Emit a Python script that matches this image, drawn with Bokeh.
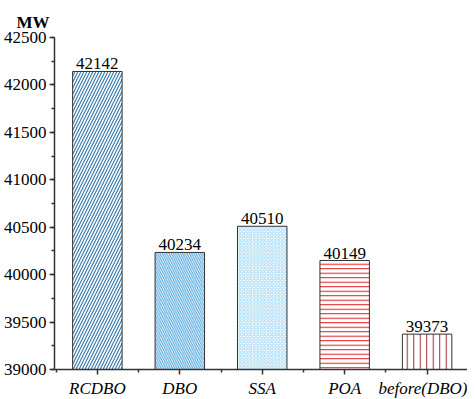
from bokeh.plotting import figure
from bokeh.models import ColumnDataSource, FixedTicker, Range1d, Title, LabelSet
from bokeh.embed import file_html
from bokeh.resources import INLINE

categories = ["RCDBO", "DBO", "SSA", "POA", "before(DBO)"]
values = [42142, 40234, 40510, 40149, 39373]
hatch_patterns = ["/", "\\", "x", "-", "|"]
hatch_colors = ["#3b7cae", "#3a9ad8", "#a6daf4", "#e01818", "#a02a2a"]
hatch_scales = [6, 4.5, 3.5, 4.5, 6.5]
hatch_weights = [1.2, 1.0, 1.0, 1.0, 1.0]

xs = list(range(1, len(categories) + 1))
src = ColumnDataSource(dict(x=xs, top=values, hp=hatch_patterns, hc=hatch_colors,
                            hs=hatch_scales, hw=hatch_weights, lab=[str(v) for v in values]))

FONT = "Liberation Serif"
p = figure(frame_width=413, frame_height=332, output_backend="svg", toolbar_location=None,
           x_range=Range1d(0.48, 5.49), y_range=Range1d(39000, 42500),
           min_border_left=54, min_border_right=0, min_border_top=37, min_border_bottom=0)
p.outline_line_color = None
p.grid.grid_line_color = None

p.vbar(x="x", top="top", bottom=39000, width=0.6, source=src,
       fill_color="white", line_color="#333333", line_width=1,
       hatch_pattern="hp", hatch_color="hc", hatch_scale="hs", hatch_weight="hw")

labels = LabelSet(x="x", y="top", text="lab", source=src, text_align="center",
                  text_baseline="bottom", y_offset=2, text_font=FONT, text_font_size="17px",
                  text_color="black")
p.add_layout(labels)

p.yaxis.ticker = FixedTicker(ticks=list(range(39000, 42501, 500)),
                             minor_ticks=list(range(39000, 42501, 250)))
p.xaxis.ticker = FixedTicker(ticks=xs, minor_ticks=[0.5, 1.5, 2.5, 3.5, 4.5, 5.5])
p.xaxis.major_label_overrides = {i: c for i, c in zip(xs, categories)}

for ax in (p.xaxis, p.yaxis):
    ax.axis_line_width = 1.5
    ax.axis_line_color = "#333333"
    ax.major_tick_line_color = "#333333"
    ax.minor_tick_line_color = "#333333"
    ax.major_tick_line_width = 1.5
    ax.minor_tick_line_width = 1.5
    ax.major_tick_in = 0
    ax.major_tick_out = 5
    ax.minor_tick_in = 0
    ax.minor_tick_out = 3
    ax.major_label_text_font = FONT
    ax.major_label_text_font_size = "17px"
    ax.major_label_text_color = "black"
p.xaxis.major_label_text_font_style = "italic"
p.yaxis.major_label_standoff = 3
p.xaxis.major_label_standoff = 4

t = Title(text="MW", align="left", offset=-38, text_font=FONT, text_font_size="17px",
          text_font_style="bold", text_color="black", standoff=12)
p.add_layout(t, "above")

open("out.html", "w").write(file_html(p, INLINE))
